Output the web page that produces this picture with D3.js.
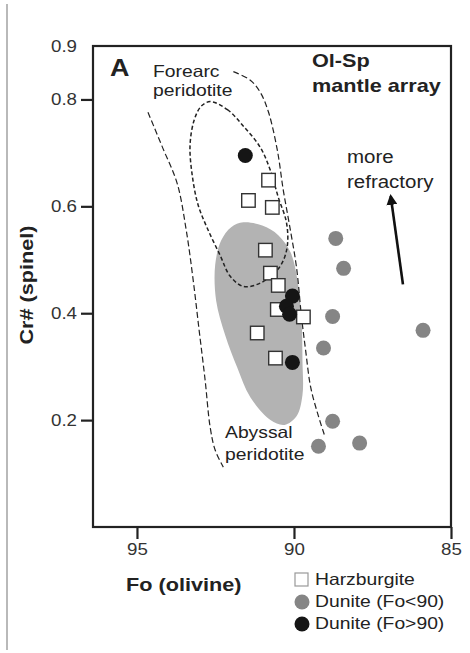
<!DOCTYPE html>
<html>
<head>
<meta charset="utf-8">
<script src="https://cdn.jsdelivr.net/npm/d3@7"></script>
<style>
  html, body { margin: 0; padding: 0; background: #fff; }
  svg { display: block; font-family: "Liberation Sans", Arial, Helvetica, sans-serif; }
</style>
</head>
<body>
<svg id="chart" width="470" height="653"></svg>
<script>
// Olivine Fo vs spinel Cr# (olivine–spinel mantle array)

// Axis ticks
const xTicks = [95, 90, 85];
const yTicks = [0.2, 0.4, 0.6, 0.8, 0.9];

// Harzburgite samples: [Fo, Cr#]
const harzburgite = [
  [90.81, 0.649], [90.69, 0.598], [91.45, 0.611], [90.91, 0.518], [90.75, 0.475],
  [90.50, 0.452], [90.53, 0.407], [89.70, 0.393], [91.17, 0.363], [90.59, 0.316]
];

// Dunite with Fo < 90
const duniteLow = [
  [88.67, 0.540], [88.42, 0.484], [88.77, 0.394], [89.06, 0.335],
  [85.89, 0.368], [88.77, 0.198], [89.22, 0.151], [87.91, 0.157]
];

// Dunite with Fo > 90
const duniteHigh = [
  [91.55, 0.695], [90.05, 0.432], [90.24, 0.413], [90.14, 0.398], [90.05, 0.308]
];

// Abyssal peridotite field (shaded)
const abyssalCore = [
  [91.61, 0.570], [91.01, 0.564], [90.50, 0.546], [90.11, 0.514], [89.89, 0.462],
  [89.76, 0.387], [89.73, 0.312], [89.73, 0.247], [89.92, 0.207], [90.30, 0.191],
  [90.75, 0.200], [91.39, 0.243], [91.81, 0.299], [92.19, 0.359], [92.48, 0.424],
  [92.51, 0.490], [92.32, 0.536], [92.00, 0.561]
];

// Forearc peridotite field (closed, short dashes)
const forearcField = [
  [92.67, 0.796], [92.12, 0.781], [91.61, 0.750], [91.07, 0.710], [90.75, 0.667],
  [90.50, 0.617], [90.24, 0.570], [90.21, 0.527], [90.37, 0.495], [90.69, 0.471],
  [91.17, 0.454], [91.61, 0.450], [92.03, 0.469], [92.35, 0.508], [92.76, 0.559],
  [93.05, 0.602], [93.24, 0.658], [93.31, 0.714], [93.18, 0.761], [92.96, 0.787]
];

// Mantle array envelope: left and right bounding curves
const arrayLeft = [
  [94.65, 0.776], [94.17, 0.708], [93.72, 0.643], [93.43, 0.555], [93.21, 0.462],
  [93.02, 0.368], [92.83, 0.275], [92.67, 0.187], [92.51, 0.144], [92.25, 0.112]
];
const arrayRight = [
  [91.93, 0.852], [91.39, 0.836], [91.07, 0.813], [90.81, 0.776], [90.53, 0.705],
  [90.34, 0.630], [90.14, 0.564], [89.92, 0.486], [89.76, 0.393], [89.63, 0.331],
  [89.47, 0.262], [89.25, 0.213], [89.03, 0.172]
];

// "more refractory" arrow, tail -> head
const refractoryArrow = [[86.53, 0.454], [86.92, 0.619]];

const W = 470, H = 653;
const frame = { left: 93, right: 451, top: 46, bottom: 527 };
const SX = 1.17; // horizontal stretch applied to all text

const svg = d3.select("#chart");

const x = d3.scaleLinear().domain([96.4, 85]).range([frame.left, frame.right]);
const y = d3.scaleLinear().domain([0, 0.9]).range([frame.bottom, frame.top]);

const line = d3.line().x(d => x(d[0])).y(d => y(d[1]));
const smooth = d3.line().x(d => x(d[0])).y(d => y(d[1])).curve(d3.curveCatmullRom.alpha(0.5));
const smoothClosed = d3.line().x(d => x(d[0])).y(d => y(d[1])).curve(d3.curveCatmullRomClosed.alpha(0.5));

// page rule at the left edge
svg.append("line")
  .attr("x1", 7).attr("x2", 7).attr("y1", 4).attr("y2", 650)
  .attr("stroke", "#a8a8a8").attr("stroke-width", 1.6);

// shaded abyssal field
svg.append("path")
  .attr("d", smoothClosed(abyssalCore))
  .attr("fill", "#b3b3b3").attr("stroke", "none");

// envelope curves
[arrayLeft, arrayRight].forEach(c => {
  svg.append("path")
    .attr("d", smooth(c))
    .attr("fill", "none").attr("stroke", "#222")
    .attr("stroke-width", 1.2).attr("stroke-dasharray", "6,3");
});

// forearc field
svg.append("path")
  .attr("d", smoothClosed(forearcField))
  .attr("fill", "none").attr("stroke", "#222")
  .attr("stroke-width", 1.5).attr("stroke-dasharray", "4,2.5");

// harzburgite squares
const sq = 13.5;
svg.append("g").selectAll("rect").data(harzburgite).join("rect")
  .attr("x", d => x(d[0]) - sq / 2).attr("y", d => y(d[1]) - sq / 2)
  .attr("width", sq).attr("height", sq)
  .attr("fill", "#fff").attr("stroke", "#333").attr("stroke-width", 1.4);

// dunite Fo>90
svg.append("g").selectAll("circle").data(duniteHigh).join("circle")
  .attr("cx", d => x(d[0])).attr("cy", d => y(d[1])).attr("r", 7.5)
  .attr("fill", "#151515");

// dunite Fo<90
svg.append("g").selectAll("circle").data(duniteLow).join("circle")
  .attr("cx", d => x(d[0])).attr("cy", d => y(d[1])).attr("r", 7.5)
  .attr("fill", "#858585");

// arrow
svg.append("defs").append("marker")
  .attr("id", "head").attr("viewBox", "0 0 10 10")
  .attr("refX", 8).attr("refY", 5)
  .attr("markerWidth", 4.2).attr("markerHeight", 4.2)
  .attr("markerUnits", "strokeWidth")
  .attr("orient", "auto")
  .append("path").attr("d", "M0,0 L10,5 L0,10 Z").attr("fill", "#111");
svg.append("path")
  .attr("d", line(refractoryArrow))
  .attr("stroke", "#111").attr("stroke-width", 2.6).attr("fill", "none")
  .attr("marker-end", "url(#head)");

// frame
svg.append("rect")
  .attr("x", frame.left).attr("y", frame.top)
  .attr("width", frame.right - frame.left).attr("height", frame.bottom - frame.top)
  .attr("fill", "none").attr("stroke", "#222").attr("stroke-width", 2.2);

// axes
const yAxis = svg.append("g")
  .attr("transform", `translate(${frame.left},0)`)
  .call(d3.axisLeft(y).tickValues(yTicks).tickSize(12).tickPadding(4).tickFormat(d3.format(".1f")));
const xAxis = svg.append("g")
  .attr("transform", `translate(0,${frame.bottom})`)
  .call(d3.axisBottom(x).tickValues(xTicks).tickSize(12).tickPadding(5).tickFormat(d3.format("d")));

[yAxis, xAxis].forEach(a => {
  a.select(".domain").remove();
  a.selectAll(".tick line").attr("stroke", "#222").attr("stroke-width", 2.2);
  a.selectAll(".tick text").attr("fill", "#333").attr("font-size", 16)
    .attr("font-family", "Liberation Sans, Arial, sans-serif");
});
yAxis.selectAll(".tick").filter(d => d === 0.9).select("line").remove();

// free text helper
function label(txt, px, py, size, weight, anchor) {
  return svg.append("text")
    .attr("x", px).attr("y", py)
    .attr("font-size", size).attr("font-weight", weight || "normal")
    .attr("text-anchor", anchor || "start")
    .attr("fill", "#222")
    .text(txt);
}

label("A", 110, 76, 23, "bold");
label("Forearc", 153, 77, 16.5);
label("peridotite", 153, 96, 16.5);
label("Ol-Sp", 312, 67, 18.5, "bold");
label("mantle array", 312, 92, 18.5, "bold");
label("more", 347, 163, 17.5);
label("refractory", 347, 188, 17.5);
label("Abyssal", 225, 438, 16.5);
label("peridotite", 225, 460, 16.5);
label("Fo (olivine)", 126, 591, 18.5, "bold");
svg.append("text")
  .attr("transform", "translate(33,285) rotate(-90)")
  .attr("text-anchor", "middle")
  .attr("font-size", 18.5).attr("font-weight", "bold").attr("fill", "#222")
  .attr("class", "ytitle")
  .text("Cr# (spinel)");

// legend
const lg = svg.append("g");
lg.append("rect").attr("x", 295).attr("y", 573).attr("width", 13).attr("height", 13)
  .attr("fill", "#fff").attr("stroke", "#999").attr("stroke-width", 1.2);
lg.append("circle").attr("cx", 302).attr("cy", 602).attr("r", 7.5).attr("fill", "#858585");
lg.append("circle").attr("cx", 302).attr("cy", 624).attr("r", 7.5).attr("fill", "#151515");
label("Harzburgite", 315, 585, 16.5);
label("Dunite (Fo<90)", 315, 607, 16.5);
label("Dunite (Fo>90)", 315, 629, 16.5);

// widen every text run by SX
svg.selectAll("text").each(function () {
  const len = this.getComputedTextLength();
  if (len > 0) {
    d3.select(this).attr("textLength", len * SX).attr("lengthAdjust", "spacingAndGlyphs");
  }
});
</script>
</body>
</html>
